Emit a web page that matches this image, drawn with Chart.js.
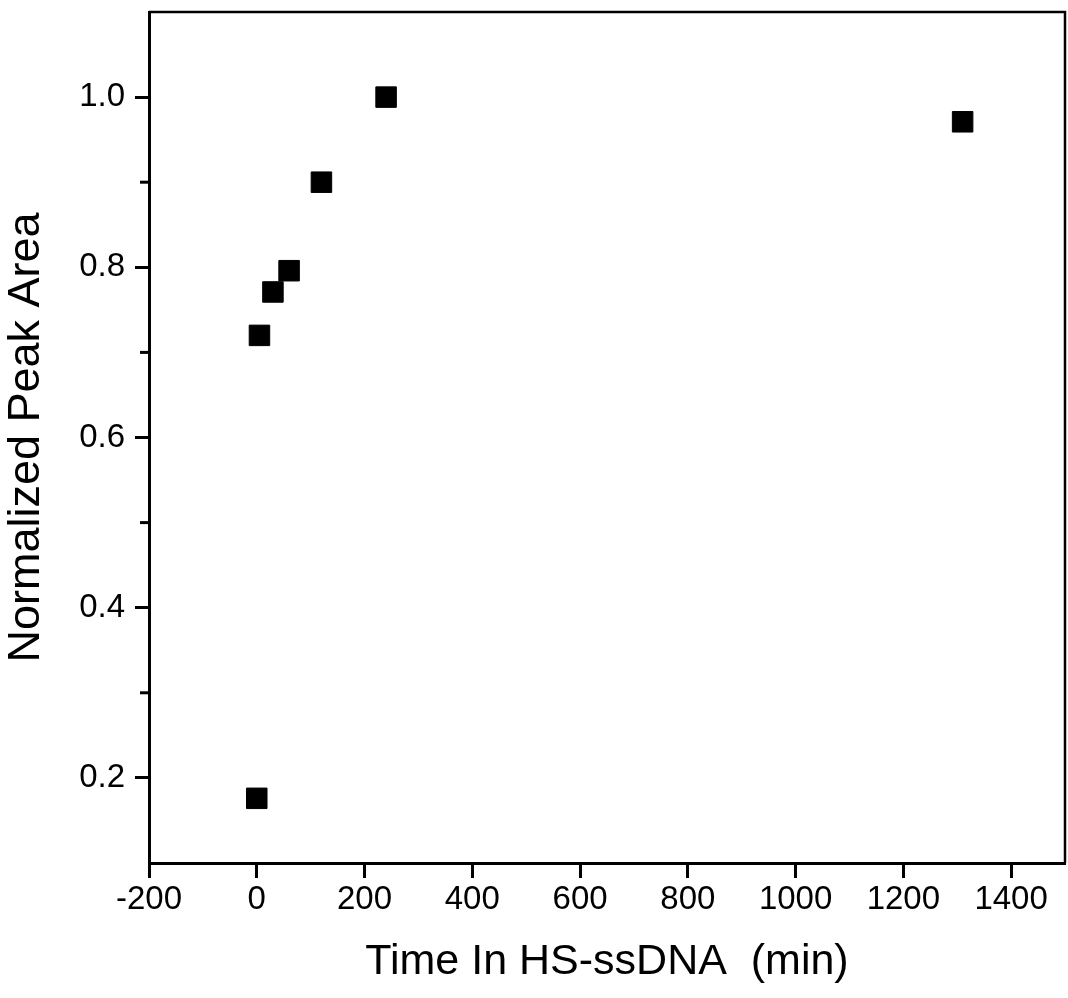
<!DOCTYPE html>
<html>
<head>
<meta charset="utf-8">
<script src="https://cdn.jsdelivr.net/npm/chart.js@4/dist/chart.umd.min.js"></script>
<style>
  html, body { margin: 0; padding: 0; background: #fff; }
  #wrap { width: 1068px; height: 998px; }
</style>
</head>
<body>
<div id="wrap"><canvas id="grafico" width="1068" height="998"></canvas></div>
<script>
// Dados
const tempos = [0, 5, 30, 60, 120, 240, 1310];
const areas = [0.176, 0.72, 0.771, 0.796, 0.90, 1.0, 0.971];

const eixoX = { min: -200, max: 1500, passo: 200 };
const eixoY = { min: 0.1, max: 1.1, passo: 0.1 };
const rotulosY = ['0.2', '0.4', '0.6', '0.8', '1.0'];

const FONTE = '"Liberation Sans", Arial, Helvetica, sans-serif';

const pontos = tempos.map((t, i) => ({ x: t, y: areas[i] }));

// Remove o recuo automático que o Chart.js reserva para os rótulos
function semRecuo(scale) {
    scale.paddingTop = 0;
    scale.paddingBottom = 0;
    scale.paddingLeft = 0;
    scale.paddingRight = 0;
}

// Moldura do gráfico e marcas menores do eixo Y
const moldura = {
    id: 'moldura',
    afterDraw: function(chart) {
        const ctx = chart.ctx;
        const area = chart.chartArea;
        const escY = chart.scales.y;
        ctx.save();
        ctx.strokeStyle = '#000';
        ctx.lineWidth = 2.5;
        ctx.beginPath();
        ctx.moveTo(area.left, area.top);
        ctx.lineTo(area.right, area.top);
        ctx.lineTo(area.right, area.bottom);
        ctx.stroke();
        // marcas menores
        ctx.lineWidth = 3;
        escY.ticks.forEach(function(t) {
            const v = Math.round(t.value * 10);
            if (v % 2 === 1 && v > 1 && v < 11) {
                const py = escY.getPixelForValue(t.value);
                ctx.beginPath();
                ctx.moveTo(area.left - 9, py);
                ctx.lineTo(area.left, py);
                ctx.stroke();
            }
        });
        ctx.restore();
    }
};

new Chart(document.getElementById('grafico').getContext('2d'), {
    type: 'scatter',
    data: {
        datasets: [{
            label: 'Normalized Peak Area',
            data: pontos,
            pointStyle: 'rect',
            pointRadius: 14.5,
            pointHoverRadius: 14.5,
            backgroundColor: '#000',
            borderColor: '#000',
            borderWidth: 1
        }]
    },
    options: {
        responsive: false,
        animation: false,
        layout: { autoPadding: false, padding: { left: 0, right: 3, top: 12, bottom: 0 } },
        plugins: {
            legend: { display: false },
            tooltip: { enabled: false }
        },
        scales: {
            x: {
                type: 'linear',
                min: eixoX.min,
                max: eixoX.max,
                afterFit: function(scale) { scale.height = 135; semRecuo(scale); },
                grid: {
                    drawOnChartArea: false,
                    drawTicks: true,
                    tickLength: 15,
                    tickWidth: 3,
                    tickColor: '#000'
                },
                border: { color: '#000', width: 3 },
                ticks: {
                    stepSize: eixoX.passo,
                    includeBounds: false,
                    padding: 2,
                    color: '#000',
                    font: { family: FONTE, size: 33 },
                    maxRotation: 0,
                    autoSkip: false,
                    callback: function(value) { return String(value); }
                },
                title: {
                    display: true,
                    text: 'Time In HS-ssDNA  (min)',
                    color: '#000',
                    font: { family: FONTE, size: 43 },
                    padding: { top: 0, bottom: 10 }
                }
            },
            y: {
                type: 'linear',
                min: eixoY.min,
                max: eixoY.max,
                afterFit: function(scale) { scale.width = 149; semRecuo(scale); },
                grid: {
                    drawOnChartArea: false,
                    drawTicks: true,
                    tickLength: 14,
                    tickWidth: 3,
                    tickColor: function(ctx) {
                        const rot = ctx.tick ? ctx.tick.value.toFixed(1) : '';
                        return rotulosY.includes(rot) ? '#000' : 'rgba(0,0,0,0)';
                    }
                },
                border: { color: '#000', width: 3 },
                ticks: {
                    stepSize: eixoY.passo,
                    includeBounds: false,
                    padding: 10,
                    color: '#000',
                    autoSkip: false,
                    font: { family: FONTE, size: 33 },
                    callback: function(value) {
                        const rot = value.toFixed(1);
                        return rotulosY.includes(rot) ? rot : '';
                    }
                },
                title: {
                    display: true,
                    text: 'Normalized Peak Area',
                    color: '#000',
                    font: { family: FONTE, size: 45 },
                    padding: { top: 0, bottom: 0 }
                }
            }
        }
    },
    plugins: [moldura]
});
</script>
</body>
</html>
